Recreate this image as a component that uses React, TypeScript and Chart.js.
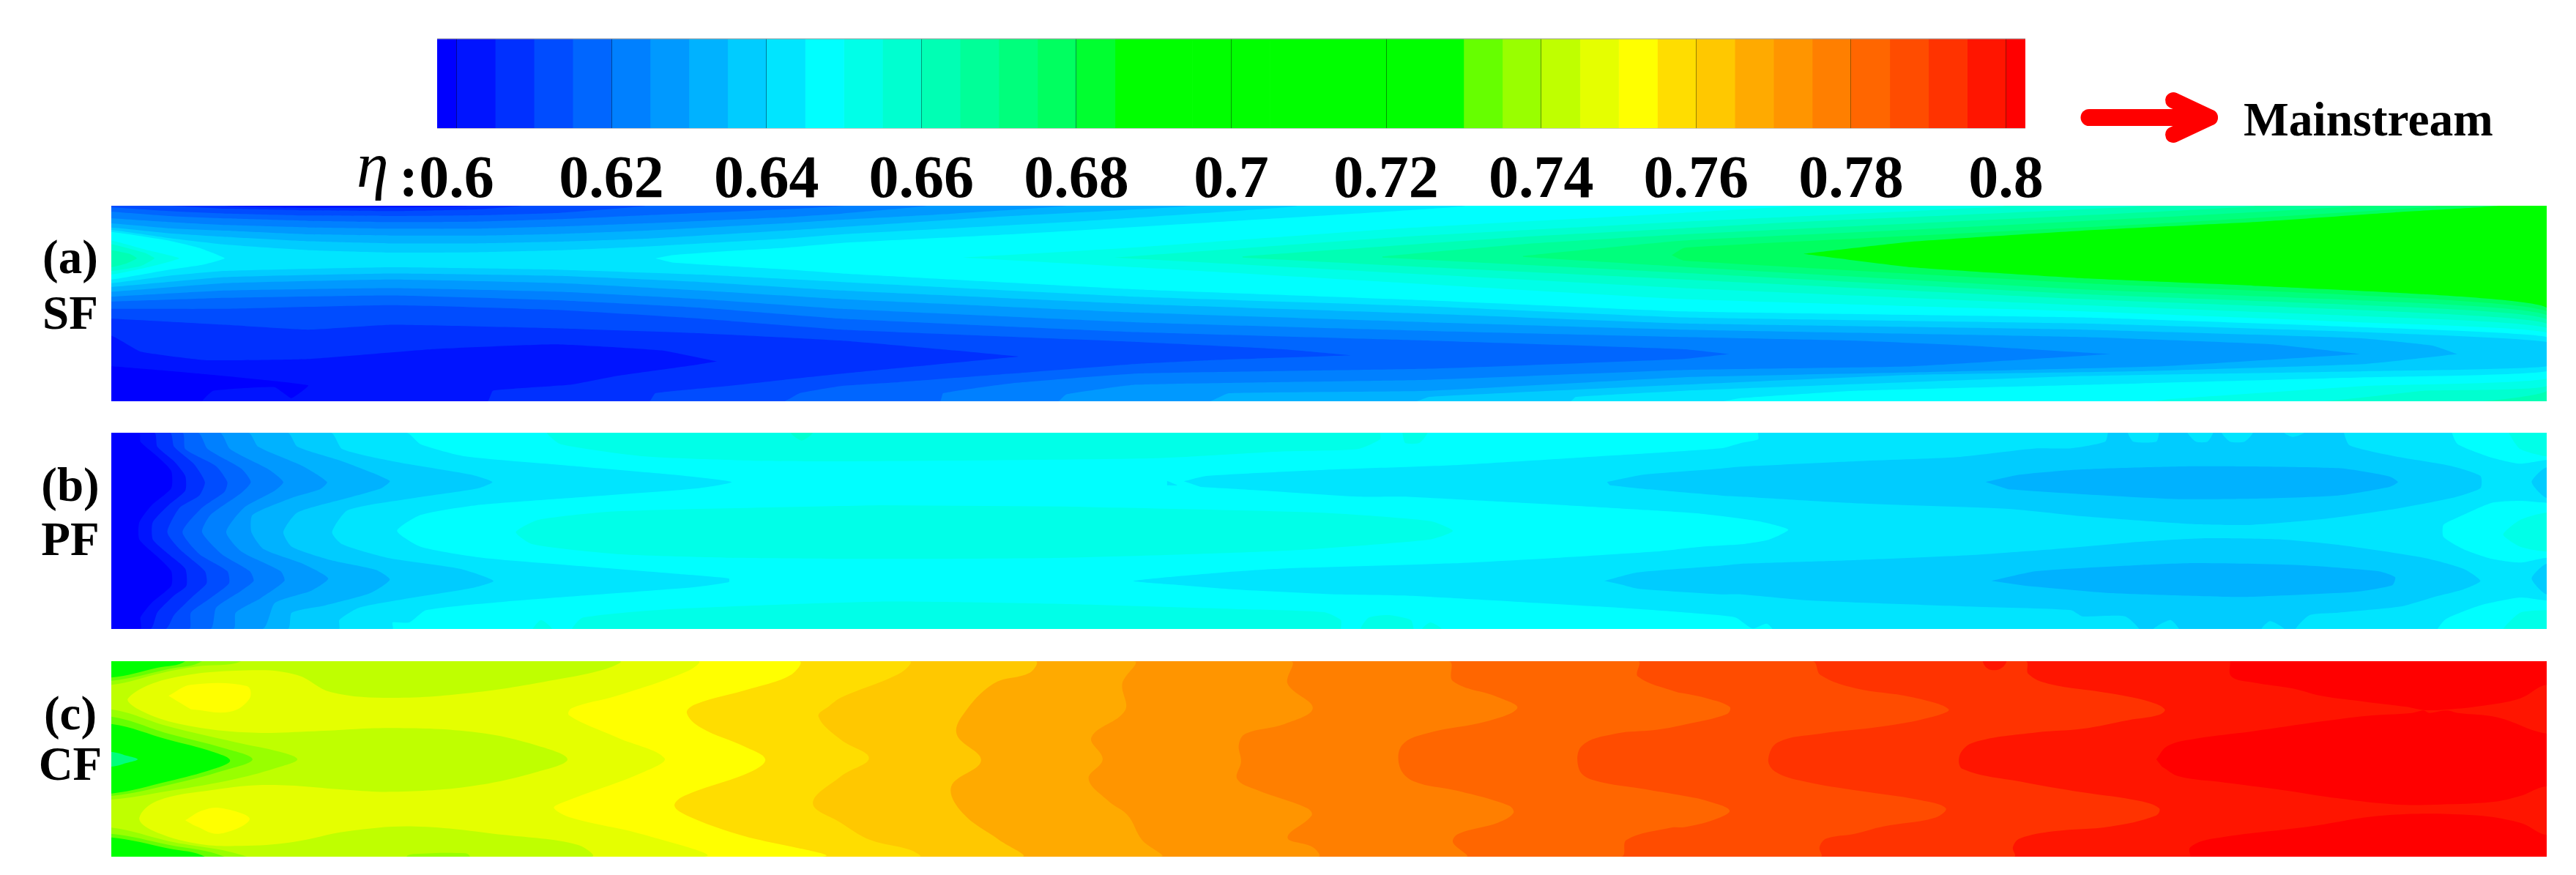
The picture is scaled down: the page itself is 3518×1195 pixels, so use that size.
import React, { useEffect, useRef } from "react";
import { Chart, registerables } from "chart.js";
Chart.register(...registerables);

type P = number[];

// ---------- colour bar ----------
const levelEdges = [0.5975,0.6,0.605,0.61,0.615,0.62,0.625,0.63,0.635,0.64,0.645,0.65,0.655,0.66,0.665,0.67,0.675,0.68,0.685,0.69,0.695,0.7,0.705,0.71,0.715,0.72,0.725,0.73,0.735,0.74,0.745,0.75,0.755,0.76,0.765,0.77,0.775,0.78,0.785,0.79,0.795,0.8,0.8025];
const C = ["#0000ff","#0014ff","#0030ff","#004cff","#0066ff","#0080ff","#0099ff","#00b2ff","#00ccff","#00e5ff","#00ffff","#00ffe8","#00ffd0","#00ffb4","#00ff98","#00ff7c","#00ff60","#00ff30","#00ff00","#00ff00","#00ff00","#00ff00","#00ff00","#00ff00","#00ff00","#00ff00","#00ff00","#66ff00","#99ff00","#bfff00","#e5ff00","#ffff00","#ffdd00","#ffc800","#ffaa00","#ff9500","#ff7f00","#ff6600","#ff4c00","#ff3300","#ff1500","#ff0000"];
const tickValues = [0.6,0.62,0.64,0.66,0.68,0.7,0.72,0.74,0.76,0.78,0.8];
const tickLabels = ["0.6","0.62","0.64","0.66","0.68","0.7","0.72","0.74","0.76","0.78","0.8"];

// ---------- helpers: read values from the three crops along a panel ----------
const c1 = (a: P[]) => a.map(([z, y]) => [(z - 198) * 0.7653, y]);
const c2 = (a: P[]) => a.map(([z, y]) => [998 + z * 0.7653, y]);
const c3 = (a: P[]) => a.map(([z, y]) => [2148 + z * 0.7768, y]);
const rev = (a: P[]) => [...a].reverse();
const TL: P = [-60, -20], TR: P = [3400, -20], BR: P = [3400, 890], BL: P = [-60, 890];
const leftPoly = (a: P[]) => [TL, ...a, BL];

// ---------- panel (a) contours ----------
const aU16 = [[2311,230],[2311,230],[2459,180],[2692,135],[2925,100],[3119,60],[3259,33]];
const aD16 = [[2311,230],[2459,285],[2692,330],[2925,360],[3158,395],[3326,450]];
const aU15 = [[2131,235],[2148,205],[2400,165],[2800,105],[3173,33]];
const aD15 = [[2131,235],[2148,258],[2692,350],[3072,400],[3326,465]];
const aU14 = [[1928,238],[2148,175],[2500,125],[3057,33]];
const aD14 = [[1928,242],[2148,283],[2692,375],[3072,420],[3326,480]];
const aU13 = [[1736,240],[1928,190],[2148,150],[2500,100],[2925,33]];
const aD13 = [[1736,245],[2148,308],[2692,395],[3072,440],[3326,497]];
const aU12 = [[1545,240],[1928,160],[2148,125],[2300,100],[2769,33]];
const aD12 = [[1545,245],[1800,285],[2148,335],[2692,415],[3072,460],[3326,515]];
const aU11 = [[1369,245],[1763,160],[2148,98],[2583,33]];
const aD11 = [[1369,245],[1800,315],[2148,370],[2692,440],[3072,485],[3326,533]];
const aU10 = [[1163,245],[1381,207],[1763,125],[2148,62],[2296,33]];
const aD10 = [[1163,245],[1400,285],[1800,355],[2148,415],[2692,465],[3072,510],[3326,552]];
const aU9R = [[743,248],[766,235],[843,218],[919,205],[998,185],[1228,150],[1534,95],[1847,33]];
const aD9R = [[743,248],[766,265],[843,280],[919,293],[998,310],[1400,375],[1800,420],[2148,465],[2692,490],[3072,530],[3326,570]];
const aWedge = [[0,335],[78,295],[124,275],[155,248],[120,205],[78,175],[0,140]];
const aU8 = [[0,132],[78,165],[155,192],[269,215],[384,225],[499,223],[613,215],[729,200],[919,168],[998,150],[1304,100],[1618,33]];
const aU7 = [[0,122],[78,145],[155,160],[269,178],[384,187],[499,187],[613,180],[729,168],[919,135],[998,120],[1228,75],[1472,33]];
const aU6 = [[0,105],[78,125],[155,135],[269,150],[384,155],[499,155],[613,148],[729,135],[919,105],[998,90],[1151,65],[1304,33]];
const aU5 = [[0,85],[78,100],[155,112],[269,122],[384,127],[499,127],[613,118],[729,105],[919,80],[998,65],[1113,33]];
const aU4 = [[0,58],[78,75],[155,85],[269,95],[384,100],[499,98],[613,88],[729,72],[919,48],[1000,33]];
const aU3 = [[0,40],[78,55],[155,65],[269,73],[384,75],[499,72],[613,62],[729,33]];
const aU2 = [[80,33],[155,45],[269,52],[384,55],[499,48],[560,33]];
const aU1 = [[155,-20],[155,33],[270,42],[384,40],[490,33],[490,-20]];
const aD8 = [[0,350],[78,320],[155,300],[384,285],[613,295],[805,315],[998,345],[1400,405],[1800,445],[2148,490],[2692,515],[3072,550],[3326,590]];
const aD7 = [[0,365],[155,325],[384,310],[613,320],[805,345],[998,380],[1400,435],[1800,475],[2148,515],[2692,540],[3072,575],[3170,605],[3204,640]];
const aD6 = [[0,385],[155,350],[384,335],[613,350],[805,380],[998,415],[1400,470],[1800,510],[2148,540],[2692,570],[2950,600],[3072,640]];
const aD5 = [[0,405],[155,380],[384,370],[613,385],[805,415],[998,455],[1400,510],[1800,545],[2148,570],[2381,585],[2536,605],[2731,640]];
const aD4 = [[0,425],[155,410],[384,400],[613,420],[805,450],[998,495],[1400,550],[1800,585],[2148,620],[2210,640]];
const aD3 = [[0,455],[155,455],[384,440],[613,460],[805,495],[998,540],[1400,590],[1600,620],[1694,645]];
const aD2 = [[0,495],[155,520],[269,540],[384,520],[613,535],[805,555],[998,585],[1151,625],[1239,650]];
const aD1 = [[0,565],[40,630],[130,665],[269,660],[437,620],[606,600],[751,625],[827,670]];
const aF1 = [[827,670],[797,685],[690,730],[628,765],[521,790],[514,833]];
const aF2 = [[1239,650],[1100,690],[998,720],[919,745],[843,770],[743,800],[735,833]];
const aF3 = [[1694,645],[1500,665],[1400,680],[1228,720],[1075,755],[998,770],[940,800],[919,833]];
const aF4 = [[2210,640],[2148,660],[1800,700],[1400,720],[1228,760],[1136,800],[1132,833]];
const aF5 = [[2731,640],[2459,690],[2148,705],[1800,745],[1400,765],[1304,805],[1293,833]];
const aF6 = [[3072,640],[2800,690],[2459,715],[2148,735],[1800,790],[1526,800],[1500,833]];
const aF7 = [[3204,640],[3080,680],[2769,710],[2459,725],[2148,765],[1800,815],[1782,833]];
const aF8 = [[3326,690],[3080,710],[2692,730],[2148,790],[2000,815],[1993,833]];
const aF9 = [[3326,710],[3080,735],[2769,760],[2381,790],[2225,820],[2200,833]];
const aF10 = [[3326,740],[3080,770],[2808,825],[2790,833]];
const aF11 = [[3326,770],[3158,790],[3018,833]];
const aF12 = [[3326,790],[3236,833]];
const aHill11 = [[-60,175],[0,175],[50,215],[93,248],[50,285],[0,315],[-60,315]];
const aHill12 = [[-60,190],[0,190],[45,225],[59,248],[40,280],[0,300],[-60,300]];
const aHill13 = [[-60,215],[0,215],[25,230],[35,248],[20,270],[0,285],[-60,285]];
const aDeep = [[-60,690],[0,690],[120,720],[269,768],[246,820],[223,775],[139,790],[124,833],[124,890],[-60,890]];

const upper = (u: P[]) => [TL, ...rev(u), [-60, u[0][1]]];
const lower = (d: P[], f: P[]) => [[-60, d[0][1]], ...d, ...f, BL];

const panelA: [string, P[]][] = [
  [C[16], [TL, ...rev(aU16), ...aD16, BR, BL]],
  [C[15], [TL, ...rev(aU15), ...aD15, BR, BL]],
  [C[14], [TL, ...rev(aU14), ...aD14, BR, BL]],
  [C[13], [TL, ...rev(aU13), ...aD13, BR, BL]],
  [C[12], [TL, ...rev(aU12), ...aD12, ...aF12, BL]],
  [C[11], [TL, ...rev(aU11), ...aD11, ...aF11, BL]],
  [C[10], [TL, ...rev(aU10), ...aD10, ...aF10, BL]],
  [C[9], [TL, ...rev(aU9R), ...aD9R, ...aF9, BL, [-60,335], ...aWedge, [-60,140]]],
  [C[8], upper(aU8)], [C[8], lower(aD8, aF8)],
  [C[7], upper(aU7)], [C[7], lower(aD7, aF7)],
  [C[6], upper(aU6)], [C[6], lower(aD6, aF6)],
  [C[5], upper(aU5)], [C[5], lower(aD5, aF5)],
  [C[4], upper(aU4)], [C[4], lower(aD4, aF4)],
  [C[3], upper(aU3)], [C[3], lower(aD3, aF3)],
  [C[2], [TL, ...rev(aU2)]], [C[2], lower(aD2, aF2)],
  [C[1], aU1], [C[1], lower(aD1, aF1)],
  [C[0], aDeep],
  [C[11], aHill11], [C[12], aHill12], [C[13], aHill13],
];

// ---------- panel (b) contours ----------
const bL9 = c1([[725,33],[750,80],[830,130],[1000,165],[1200,205],[1305,235],[1240,262],[1050,295],[850,330],[750,370],[708,435],[750,500],[860,545],[1040,580],[1200,610],[1300,630],[1300,645],[1240,665],[1100,690],[900,725],[760,760],[730,810],[700,810],[700,837]]);
const bL8 = c1([[590,33],[610,100],[700,150],[840,205],[878,235],[850,262],[740,300],[620,350],[592,440],[610,490],[690,545],[820,590],[880,640],[840,670],[720,715],[640,750],[605,800],[604,837]]);
const bL7 = c1([[513,33],[530,90],[610,150],[695,230],[680,260],[620,300],[530,360],[505,440],[520,500],[590,555],[670,595],[695,635],[660,690],[580,740],[520,770],[513,837]]);
const bL6 = c1([[443,33],[460,90],[540,170],[583,235],[570,265],[520,300],[450,370],[448,440],[470,510],[540,570],[585,630],[555,680],[490,730],[468,837]]);
const bL5 = c1([[392,33],[410,100],[480,185],[505,235],[490,270],[435,340],[403,440],[430,520],[500,600],[507,640],[465,710],[420,770],[416,837]]);
const bL4 = c1([[353,33],[370,100],[430,180],[447,235],[430,280],[375,370],[360,440],[395,530],[445,600],[452,640],[430,680],[385,750],[375,837]]);
const bL3 = c1([[325,33],[330,100],[385,170],[405,235],[400,275],[360,340],[325,440],[355,530],[405,600],[408,650],[375,710],[340,770],[337,837]]);
const bL2 = c1([[303,33],[310,90],[345,160],[365,235],[355,290],[320,340],[298,440],[320,510],[365,600],[368,650],[345,700],[310,780],[295,837]]);
const bL1 = c1([[275,33],[280,90],[310,150],[330,210],[330,270],[300,330],[272,400],[272,470],[300,530],[330,590],[332,660],[310,700],[280,770],[268,837]]);
const bL0 = c1([[248,33],[250,70],[280,130],[305,190],[305,260],[270,330],[248,400],[248,470],[280,540],[305,600],[305,660],[270,730],[250,790],[250,837]]);
const bR9 = [
  ...c2([[610,232],[650,210],[860,185],[1100,165],[1350,130],[1568,97]]),
  ...c3([[100,75],[130,60],[130,33],[130,-20],[1350,-20],[1350,33],[1360,80],[1420,135],[1470,160],[1516,145],[1600,145],[1600,320],[1516,320],[1470,312],[1420,320],[1360,380],[1335,410],[1335,460],[1370,510],[1420,550],[1470,565],[1516,545],[1600,545],[1600,720],[1516,720],[1470,708],[1400,740],[1340,795],[1325,837],[1325,890],[155,890],[155,837],[145,815],[120,835],[90,790],[30,775]]),
  ...c2([[1450,760],[1350,745],[1200,725],[1000,700],[880,695],[700,675],[590,655],[520,640],[680,605],[780,590],[1090,568],[1280,545],[1450,520]]),
  ...c3([[30,500],[100,490],[150,470],[183,430],[130,395],[30,365]]),
  ...c2([[1450,352],[1250,325],[1000,295],[920,295],[750,270],[640,255]]),
];
const bSpot = c2([[580,230],[598,248],[580,248]]);
const bR8Up = [
  ...c2([[1365,235],[1430,205],[1568,180]]),
  ...c3([[100,172],[300,150],[480,133],[620,97],[680,97],[740,70],[745,33],[745,-20],[780,-20],[780,33],[790,70],[830,70],[835,33],[835,-20],[885,-20],[885,33],[900,70],[920,70],[930,33],[930,-20],[945,-20],[945,33],[960,70],[985,70],[1000,33],[1000,-20],[1055,-20],[1055,33],[1070,50],[1090,33],[1090,-20],[1160,-20],[1160,33],[1170,85],[1250,130],[1350,170],[1400,210],[1400,260],[1350,300],[1250,345],[1130,385],[1000,410],[900,408],[700,375],[570,345],[300,322],[100,295]]),
  ...c2([[1568,290],[1440,265],[1370,248]]),
];
const bR8Low = [
  ...c2([[1360,640],[1420,605],[1568,578]]),
  ...c3([[100,570],[300,555],[500,535],[650,510],[800,480],[920,465],[1050,470],[1150,492],[1300,545],[1370,590],[1400,640],[1370,675],[1320,705],[1260,745],[1150,770],[1100,780],[1075,837],[1075,890],[1055,890],[1055,837],[1030,805],[1015,837],[1015,890],[870,890],[870,837],[855,800],[825,837],[825,890],[800,890],[800,837],[775,785],[700,785],[680,760],[500,745],[220,720],[100,695]]),
  ...c2([[1568,695],[1420,672],[1390,655]]),
];
const bEdgeUp = c3([[1600,175],[1516,175],[1490,235],[1516,300],[1600,300]]);
const bEdgeLow = c3([[1600,570],[1516,570],[1490,630],[1516,695],[1600,695]]);
const bEllUp = c3([[530,235],[590,205],[700,183],[900,170],[1150,178],[1240,212],[1255,235],[1240,255],[1150,290],[1000,303],[870,305],[700,285],[570,265]]);
const bEllLow = c3([[540,640],[620,600],[800,575],[900,567],[1080,575],[1220,600],[1250,625],[1245,658],[1180,685],[1000,705],[950,705],[750,690],[600,660]]);
const bG1 = [...c1([[975,-20],[975,33],[1000,80],[1150,130],[1350,148]]), ...c2([[0,150],[550,138],[780,110],[920,100],[960,60],[960,33],[960,-20]])];
const bG2 = [...c1([[1568,330],[1100,355],[960,390],[920,440],[950,490],[1100,530],[1300,545],[1568,550]]), ...c2([[400,545],[800,515],[1050,470],[1090,435],[1050,395],[850,360],[400,335]])];
const bG3 = [...c1([[1020,890],[1020,837],[1040,790],[1200,755],[1568,725]]), ...c2([[400,735],[700,755],[860,768],[890,800],[890,837],[890,890]])];
const bG4 = c2([[1000,-20],[1000,33],[1005,75],[1030,75],[1045,33],[1045,-20]]);
const bG5 = c1([[950,890],[950,837],[965,800],[985,837],[985,890]]);
const bG6 = c2([[925,890],[925,837],[940,790],[975,780],[1015,800],[1020,837],[1020,890]]);
const bG7 = c2([[1035,890],[1035,837],[1050,810],[1070,837],[1070,890]]);
const bG8 = c3([[1450,-20],[1450,33],[1470,100],[1516,130],[1600,130],[1600,-20]]);
const bG9 = c3([[1600,360],[1516,360],[1470,390],[1440,450],[1470,500],[1516,520],[1600,520]]);
const bG10 = c3([[1600,760],[1516,760],[1470,770],[1440,837],[1440,890],[1600,890]]);
const bG11 = c1([[1410,-20],[1410,33],[1430,65],[1450,33],[1450,-20]]);

const panelB: [string, P[]][] = [
  [C[9], leftPoly(bL9)], [C[9], bR9], [C[9], bSpot],
  [C[8], leftPoly(bL8)], [C[8], bR8Up], [C[8], bR8Low], [C[8], bEdgeUp], [C[8], bEdgeLow],
  [C[7], leftPoly(bL7)], [C[7], bEllUp], [C[7], bEllLow],
  [C[6], leftPoly(bL6)], [C[5], leftPoly(bL5)], [C[4], leftPoly(bL4)], [C[3], leftPoly(bL3)],
  [C[2], leftPoly(bL2)], [C[1], leftPoly(bL1)], [C[0], leftPoly(bL0)],
  [C[11], bG1], [C[11], bG2], [C[11], bG3], [C[11], bG4], [C[11], bG5], [C[11], bG6], [C[11], bG7],
  [C[11], bG8], [C[11], bG9], [C[11], bG10], [C[12], bG11],
];

// ---------- panel (c) contours ----------
const cRedTop = c3([[960,-20],[960,38],[962,100],[1000,125],[1070,150],[1120,180],[1200,205],[1270,225],[1300,238],[1345,235],[1400,222],[1470,190],[1516,135],[1600,135],[1600,-20]]);
const cRedMid = c3([[830,440],[850,385],[900,355],[1000,325],[1120,285],[1200,262],[1280,250],[1300,240],[1310,250],[1340,240],[1360,250],[1430,268],[1516,335],[1600,335],[1600,550],[1516,550],[1470,590],[1420,615],[1330,625],[1250,625],[1150,600],[1050,565],[950,535],[870,510],[840,470]]);
const cRedLow = c3([[890,890],[890,839],[890,800],[930,765],[1100,715],[1230,670],[1380,668],[1470,700],[1516,750],[1600,750],[1600,890]]);
const cL39 = c3([[600,38],[605,90],[640,130],[750,170],[820,205],[845,235],[835,258],[780,280],[700,315],[620,330],[510,370],[485,420],[490,480],[600,535],[700,575],[800,610],[835,640],[830,670],[750,715],[650,735],[590,765],[578,800],[580,839]]);
const cBubble = c3([[525,-20],[525,38],[535,70],[555,70],[567,38],[567,-20]]);
const cL38 = c3([[225,38],[240,95],[300,148],[400,185],[465,235],[430,270],[350,305],[240,335],[165,370],[148,440],[160,490],[210,530],[310,570],[410,605],[460,640],[440,680],[350,715],[300,745],[250,765],[238,800],[240,839]]);
const cL37 = [...c2([[1420,38],[1420,100],[1490,165]]), ...c3([[0,170],[40,190],[80,225],[75,255],[0,298]]), ...c2([[1450,320],[1380,335],[1320,385],[1315,480],[1340,525],[1440,565]]), ...c3([[0,590],[40,610],[80,650],[50,690],[0,718]]), ...c2([[1480,720],[1400,770],[1390,839]])];
const cL36 = c2([[1082,38],[1090,120],[1170,185],[1205,230],[1150,285],[1050,330],[1000,380],[995,470],[1020,530],[1100,570],[1190,630],[1198,660],[1170,700],[1100,745],[1090,780],[1113,839]]);
const cL35 = c2([[800,38],[795,130],[840,230],[790,295],[720,335],[708,380],[712,450],[705,520],[740,565],[830,640],[838,670],[795,760],[840,800],[850,839]]);
const cL34 = c2([[520,38],[500,130],[505,240],[445,350],[465,440],[440,520],[475,610],[510,670],[535,770],[568,839]]);
const cL33 = c2([[345,38],[335,85],[270,130],[215,260],[205,340],[248,445],[195,550],[215,660],[280,770],[320,839]]);
const cL32 = [...c2([[120,38],[105,85],[0,185]]), ...c1([[1480,220],[1460,265],[1500,360],[1550,435],[1500,510],[1450,620],[1500,700]]), ...c2([[50,770],[120,810],[138,839]])];
const cL31 = c1([[1425,38],[1410,95],[1340,150],[1240,215],[1225,250],[1250,310],[1330,390],[1365,440],[1340,490],[1220,590],[1203,630],[1225,670],[1320,750],[1465,839]]);
const cL30 = c1([[1245,38],[1225,80],[1100,180],[1020,230],[1015,260],[1100,350],[1185,435],[1150,490],[1000,620],[988,640],[1020,680],[1150,750],[1255,839]]);
const cIslandTop = c1([[300,180],[340,135],[440,140],[445,190],[410,245],[340,235]]);
const cIslandLow = c1([[330,690],[360,650],[395,640],[445,685],[390,745],[345,710]]);
const cL29 = c1([[1105,38],[1080,70],[1000,110],[850,165],[700,188],[590,165],[530,95],[450,75],[300,110],[228,190],[250,240],[320,295],[440,330],[560,325],[700,312],[850,330],[960,385],[1012,440],[960,490],[840,550],[700,573],[620,565],[480,545],[380,565],[280,610],[248,680],[270,730],[350,785],[430,795],[520,780],[620,735],[740,715],[900,750],[1030,790],[1055,839]]);
const c28Top = c1([[100,-20],[430,-20],[430,38],[350,60],[290,85],[198,135],[100,135]]);
const c28Mid = c1([[100,235],[198,235],[300,305],[420,370],[500,410],[530,440],[500,470],[420,520],[300,570],[198,605],[100,605]]);
const c28Low = c1([[100,720],[198,720],[300,775],[440,839],[440,890],[100,890]]);
const c28Dot = c1([[725,890],[725,839],[740,828],[830,825],[838,839],[838,890]]);
const c27Top = c1([[100,-20],[360,-20],[360,38],[300,70],[198,118],[100,118]]);
const c27Mid = c1([[100,265],[198,265],[300,335],[400,395],[450,440],[400,485],[300,545],[198,590],[100,590]]);
const c27Low = c1([[100,745],[198,745],[300,790],[400,839],[400,890],[100,890]]);
const c26Top = c1([[100,-20],[330,-20],[330,38],[280,65],[198,105],[100,105]]);
const c26Mid = c1([[100,295],[198,295],[300,360],[380,410],[410,445],[380,480],[300,530],[198,580],[100,580]]);
const c26Low = c1([[100,760],[198,760],[300,805],[365,839],[365,890],[100,890]]);
const cSpot = c1([[100,410],[198,410],[225,425],[245,440],[225,455],[198,470],[100,470]]);

const panelC: [string, P[]][] = [
  [C[41], cRedTop], [C[41], cRedMid], [C[41], cRedLow],
  [C[39], leftPoly(cL39)], [C[40], cBubble],
  [C[38], leftPoly(cL38)], [C[37], leftPoly(cL37)], [C[36], leftPoly(cL36)], [C[35], leftPoly(cL35)],
  [C[34], leftPoly(cL34)], [C[33], leftPoly(cL33)], [C[32], leftPoly(cL32)], [C[31], leftPoly(cL31)],
  [C[30], leftPoly(cL30)], [C[31], cIslandTop], [C[31], cIslandLow],
  [C[29], leftPoly(cL29)],
  [C[28], c28Top], [C[28], c28Mid], [C[28], c28Low], [C[28], c28Dot],
  [C[27], c27Top], [C[27], c27Mid], [C[27], c27Low],
  [C[26], c26Top], [C[26], c26Mid], [C[26], c26Low], [C[15], cSpot],
];

const FULL: P[] = [[-60,-20],[3400,-20],[3400,890],[-60,890]];

function fieldConfig(base: string, polys: [string, P[]][], yMin: number, yMax: number, tension: number) {
  const all: [string, P[]][] = [[base, FULL], ...polys];
  return {
    type: "scatter",
    data: {
      datasets: all.map(([color, pts], i) => ({
        data: pts.map(([x, y]) => ({ x, y })),
        showLine: true,
        fill: "shape",
        backgroundColor: color,
        borderWidth: 0,
        pointRadius: 0,
        tension,
        order: all.length - i,
      })),
    },
    options: {
      animation: false,
      responsive: false,
      events: [],
      layout: { padding: 0 },
      plugins: { legend: { display: false }, tooltip: { enabled: false }, title: { display: false } },
      scales: {
        x: { type: "linear", min: 0, max: 3326, display: false },
        y: { type: "linear", min: yMin, max: yMax, reverse: true, display: false },
      },
    },
  };
}

const barConfig = {
  type: "bar",
  data: {
    labels: ["eta"],
    datasets: C.map((color, i) => ({
      data: [[levelEdges[i], levelEdges[i + 1]]],
      backgroundColor: color,
      borderWidth: 0,
      grouped: false,
      barPercentage: 1,
      categoryPercentage: 1,
    })),
  },
  options: {
    indexAxis: "y",
    animation: false,
    responsive: false,
    events: [],
    layout: { padding: { left: 200, right: 200, top: 53, bottom: 0 } },
    plugins: { legend: { display: false }, tooltip: { enabled: false }, title: { display: false } },
    scales: {
      y: { display: false },
      x: {
        type: "linear",
        min: levelEdges[0],
        max: levelEdges[levelEdges.length - 1],
        afterBuildTicks: (s: any) => { s.ticks = tickValues.map((value) => ({ value })); },
        afterFit: (s: any) => { s.height = 115; },
        border: { display: false },
        grid: { z: 1, color: "rgba(0,0,0,0.4)", lineWidth: 1, drawTicks: false },
        ticks: {
          autoSkip: false,
          maxRotation: 0,
          padding: 24,
          color: "#000",
          font: { family: "'Liberation Serif'", weight: "bold", size: 82 },
          callback: (_v: any, i: number) => tickLabels[i],
        },
      },
    },
  },
};

const serif = "'Liberation Serif', serif";
const labels: [string, number][] = [["(a)", 373], ["SF", 449], ["(b)", 684], ["PF", 758], ["(c)", 996], ["CF", 1065]];

export default function App() {
  const barRef = useRef<HTMLCanvasElement>(null);
  const aRef = useRef<HTMLCanvasElement>(null);
  const bRef = useRef<HTMLCanvasElement>(null);
  const cRef = useRef<HTMLCanvasElement>(null);
  useEffect(() => {
    const charts = [
      new Chart(barRef.current!, barConfig as any),
      new Chart(aRef.current!, fieldConfig(C[18], panelA, 33, 833, 0.12) as any),
      new Chart(bRef.current!, fieldConfig(C[10], panelB, 33, 837, 0.2) as any),
      new Chart(cRef.current!, fieldConfig(C[40], panelC, 38, 839, 0.38) as any),
    ];
    return () => charts.forEach((c) => c.destroy());
  }, []);
  const abs = (left: number, top: number): React.CSSProperties => ({ position: "absolute", left, top, display: "block" });
  return (
    <div style={{ position: "absolute", left: 0, top: 0, width: 3518, height: 1195, background: "#fff", overflow: "hidden" }}>
      <canvas ref={barRef} width={2569} height={290} style={abs(397, 0)} />
      <canvas ref={aRef} width={3326} height={267} style={abs(152, 281)} />
      <canvas ref={bRef} width={3326} height={268} style={abs(152, 591)} />
      <canvas ref={cRef} width={3326} height={267} style={abs(152, 903)} />
      <svg width={3518} height={1195} style={abs(0, 0)}>
        <line x1={597} y1={53} x2={2766} y2={53} stroke="#999" strokeWidth={1} />
        <line x1={597} y1={175.5} x2={2766} y2={175.5} stroke="#ccc" strokeWidth={1} />
        <g fontFamily={serif} fontWeight="bold" fontSize={65} textAnchor="middle" fill="#000">
          {labels.map(([t, y]) => <text key={t} x={96} y={y}>{t}</text>)}
        </g>
        <text x={487} y={255} fontFamily={serif} fontStyle="italic" fontSize={88} fill="#000">η</text>
        <text x={545} y={268} fontFamily={serif} fontWeight="bold" fontSize={78} fill="#000">:</text>
        <text x={3064} y={185} fontFamily={serif} fontWeight="bold" fontSize={65.5} fill="#000">Mainstream</text>
        <g stroke="#ff0000" strokeLinecap="round" fill="none">
          <line x1={2853} y1={160.5} x2={3012} y2={160.5} strokeWidth={23} />
          <line x1={2968} y1={137} x2={3018} y2={160.5} strokeWidth={22} />
          <line x1={2968} y1={184} x2={3018} y2={160.5} strokeWidth={22} />
        </g>
      </svg>
    </div>
  );
}
